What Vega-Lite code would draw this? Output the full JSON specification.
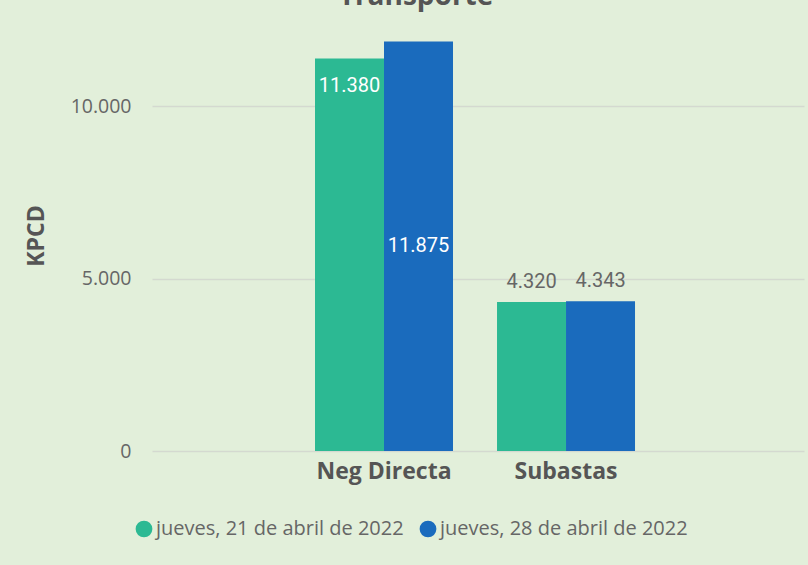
{
  "$schema": "https://vega.github.io/schema/vega-lite/v6.json",
  "autosize": {"type": "none"},
  "width": 652,
  "height": 431,
  "padding": {"left": 152, "top": 20, "right": 4, "bottom": 114},
  "background": "#e2efda",
  "title": {
    "text": "Transporte",
    "font": "Open Sans",
    "fontSize": 28,
    "fontWeight": "bold",
    "color": "#555555",
    "anchor": "middle",
    "frame": "group",
    "dx": -62,
    "dy": 13,
    "offset": 0,
    "baseline": "alphabetic"
  },
  "config": {
    "view": {"stroke": null},
    "font": "Open Sans"
  },
  "data": {
    "values": [
      {"categoria": "Neg Directa", "fecha": "jueves, 21 de abril de 2022", "valor": 11380},
      {"categoria": "Neg Directa", "fecha": "jueves, 28 de abril de 2022", "valor": 11875},
      {"categoria": "Subastas", "fecha": "jueves, 21 de abril de 2022", "valor": 4320},
      {"categoria": "Subastas", "fecha": "jueves, 28 de abril de 2022", "valor": 4343}
    ]
  },
  "encoding": {
    "x": {
      "field": "categoria",
      "type": "nominal",
      "sort": ["Neg Directa", "Subastas"],
      "scale": {"paddingInner": 0.2418, "paddingOuter": 0.912, "align": 0.491},
      "axis": {
        "title": null,
        "labelAngle": 0,
        "labelFont": "Open Sans",
        "labelFontSize": 23,
        "labelFontWeight": "bold",
        "labelColor": "#555555",
        "labelPadding": 9,
        "domain": false,
        "ticks": false
      }
    },
    "xOffset": {"field": "fecha", "type": "nominal"},
    "y": {
      "field": "valor",
      "type": "quantitative",
      "scale": {"domain": [0, 12500], "nice": false},
      "axis": {
        "title": "KPCD",
        "titleFont": "Open Sans",
        "titleFontSize": 23,
        "titleFontWeight": "bold",
        "titleColor": "#555555",
        "titlePadding": 22,
        "values": [0, 5000, 10000],
        "format": ",.0f",
        "labelFont": "Open Sans",
        "labelFontSize": 19.5,
        "labelColor": "#666666",
        "labelPadding": 21,
        "domain": false,
        "ticks": false,
        "gridColor": "#d4d9d0",
        "gridWidth": 1.5
      }
    }
  },
  "layer": [
    {
      "mark": {"type": "bar"},
      "encoding": {
        "color": {
          "field": "fecha",
          "type": "nominal",
          "scale": {"range": ["#2cb993", "#1a6bbd"]},
          "legend": {
            "title": null,
            "orient": "none",
            "direction": "horizontal",
            "legendX": -18,
            "legendY": 499,
            "symbolType": "circle",
            "symbolSize": 280,
            "symbolStrokeWidth": 0,
            "labelFont": "Open Sans",
            "labelFontSize": 20,
            "labelColor": "#666666",
            "labelOffset": 2,
            "columnPadding": 14,
            "labelLimit": 400
          }
        }
      }
    },
    {
      "transform": [{"filter": "datum.categoria == 'Neg Directa' && datum.fecha == 'jueves, 21 de abril de 2022'"}],
      "mark": {"type": "text", "font": "Roboto", "fontSize": 20, "color": "white", "baseline": "top", "dy": 17},
      "encoding": {"text": {"field": "valor", "type": "quantitative", "format": ",.0f"}}
    },
    {
      "transform": [
        {"filter": "datum.categoria == 'Neg Directa' && datum.fecha == 'jueves, 28 de abril de 2022'"},
        {"calculate": "datum.valor / 2", "as": "mitad"}
      ],
      "mark": {"type": "text", "font": "Roboto", "fontSize": 20, "color": "white", "baseline": "middle"},
      "encoding": {
        "y": {"field": "mitad", "type": "quantitative"},
        "text": {"field": "valor", "type": "quantitative", "format": ",.0f"}
      }
    },
    {
      "transform": [{"filter": "datum.categoria == 'Subastas'"}],
      "mark": {"type": "text", "font": "Roboto", "fontSize": 20, "color": "#666666", "baseline": "bottom", "dy": -10},
      "encoding": {"text": {"field": "valor", "type": "quantitative", "format": ",.0f"}}
    }
  ],
  "usermeta": {"embedOptions": {"formatLocale": {"decimal": ",", "thousands": ".", "grouping": [3], "currency": ["", " €"]}}}
}
